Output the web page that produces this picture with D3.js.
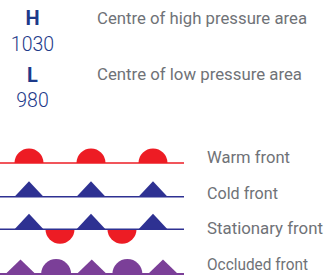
<!DOCTYPE html>
<html>
<head>
<meta charset="utf-8">
<script src="https://cdn.jsdelivr.net/npm/d3@7"></script>
<style>
body{margin:0;background:#fff;}
svg{display:block;}
</style>
</head>
<body>
<svg id="chart"></svg>
<script>
// legend data
var pressureSymbols = ["H", "L"];
var pressureValues = [1030, 980];
var pressureLabels = ["Centre of high pressure area", "Centre of low pressure area"];

var frontLabels = ["Warm front", "Cold front", "Stationary front", "Occluded front"];
// marker kind in each slot along the front line (null = empty slot)
var frontMarkers = [
    ["warm", null, "warm", null, "warm"],
    ["cold", null, "cold", null, "cold"],
    ["cold", "warmDown", "cold", "warmDown", "cold"],
    ["occTri", "occSemi", "occTri", "occSemi", "occTri"]
];
var frontColors = ["#ed1c24", "#2e3192", "#2e3192", "#7b3f98"];

var screen = {width: 325, height: 276};
var svg = d3.select("#chart").attr("width", screen.width).attr("height", screen.height);

var textGrey = "#6f7277";
var navy = "#1d3a8a";

// pressure block
var pY = d3.scalePoint().domain(pressureSymbols).range([25, 81.5]);
pressureSymbols.forEach(function(s, i) {
    svg.append("text")
        .attr("x", 32.5).attr("y", pY(s))
        .attr("text-anchor", "middle")
        .style("font-family", "Roboto, sans-serif")
        .style("font-weight", "bold").style("font-size", "20px")
        .attr("fill", navy)
        .text(s);
    svg.append("text")
        .attr("x", 32.5).attr("y", pY(s) + 25.5)
        .attr("text-anchor", "middle")
        .style("font-family", "Roboto, sans-serif")
        .style("font-weight", 300).style("font-size", "19.5px")
        .attr("fill", navy)
        .text(pressureValues[i]);
    svg.append("text")
        .attr("x", 97).attr("y", pY(s) - 1.5)
        .style("font-family", "Roboto, sans-serif").style("font-size", "16.5px")
        .attr("fill", textGrey)
        .attr("textLength", i == 0 ? 210 : 205).attr("lengthAdjust", "spacingAndGlyphs")
        .text(pressureLabels[i]);
});

// fronts
var labelY = d3.scalePoint().domain(frontLabels).range([163, 270]);
var lineOffset = [0, -2, -5, 4];
var labelWidths = [83, 71, 116, 101];
var slotX = d3.scaleLinear().domain([0, 4]).range([29, 153]);
var occX = d3.scaleLinear().domain([0, 4]).range([20.5, 163]);
var lineX = d3.scaleLinear().domain([0, 1]).range([0, 184]);

var semi = function(r, up) {
    return up ? "M" + (-r) + ",0A" + r + "," + r + " 0 0 1 " + r + ",0Z"
              : "M" + (-r) + ",0A" + r + "," + r + " 0 0 0 " + r + ",0Z";
};
var tri = function(w, h) {
    return "M" + (-w) + ",0L0," + (-h) + "L" + w + ",0Z";
};

frontLabels.forEach(function(lab, i) {
    var ly = labelY(lab) + lineOffset[i];
    var g = svg.append("g");
    var xs = i == 3 ? occX : slotX;
    g.selectAll("path.mark")
        .data(frontMarkers[i].map(function(m, k) { return {kind: m, k: k}; })
            .filter(function(d) { return d.kind; }))
        .enter()
        .append("path")
        .attr("class", "mark")
        .attr("transform", function(d) { return "translate(" + xs(d.k) + "," + ly + ")"; })
        .attr("d", function(d) {
            if (d.kind == "warm") return semi(14.5, true);
            if (d.kind == "warmDown") return semi(14.5, false);
            if (d.kind == "cold") return tri(14.5, 15.5);
            if (d.kind == "occTri") return tri(15, 14.5);
            return semi(15, true);
        })
        .attr("fill", function(d) {
            if (d.kind == "warm" || d.kind == "warmDown") return "#ed1c24";
            if (d.kind == "cold") return "#2e3192";
            return "#7b3f98";
        });
    g.append("line")
        .attr("x1", lineX(0)).attr("x2", lineX(1))
        .attr("y1", ly).attr("y2", ly)
        .attr("stroke", frontColors[i])
        .attr("stroke-width", i == 3 ? 2 : 1.5);
    svg.append("text")
        .attr("x", 207).attr("y", labelY(lab))
        .style("font-family", "Roboto, sans-serif").style("font-size", "16.5px")
        .attr("fill", textGrey)
        .attr("textLength", labelWidths[i]).attr("lengthAdjust", "spacingAndGlyphs")
        .text(lab);
});
</script>
</body>
</html>
